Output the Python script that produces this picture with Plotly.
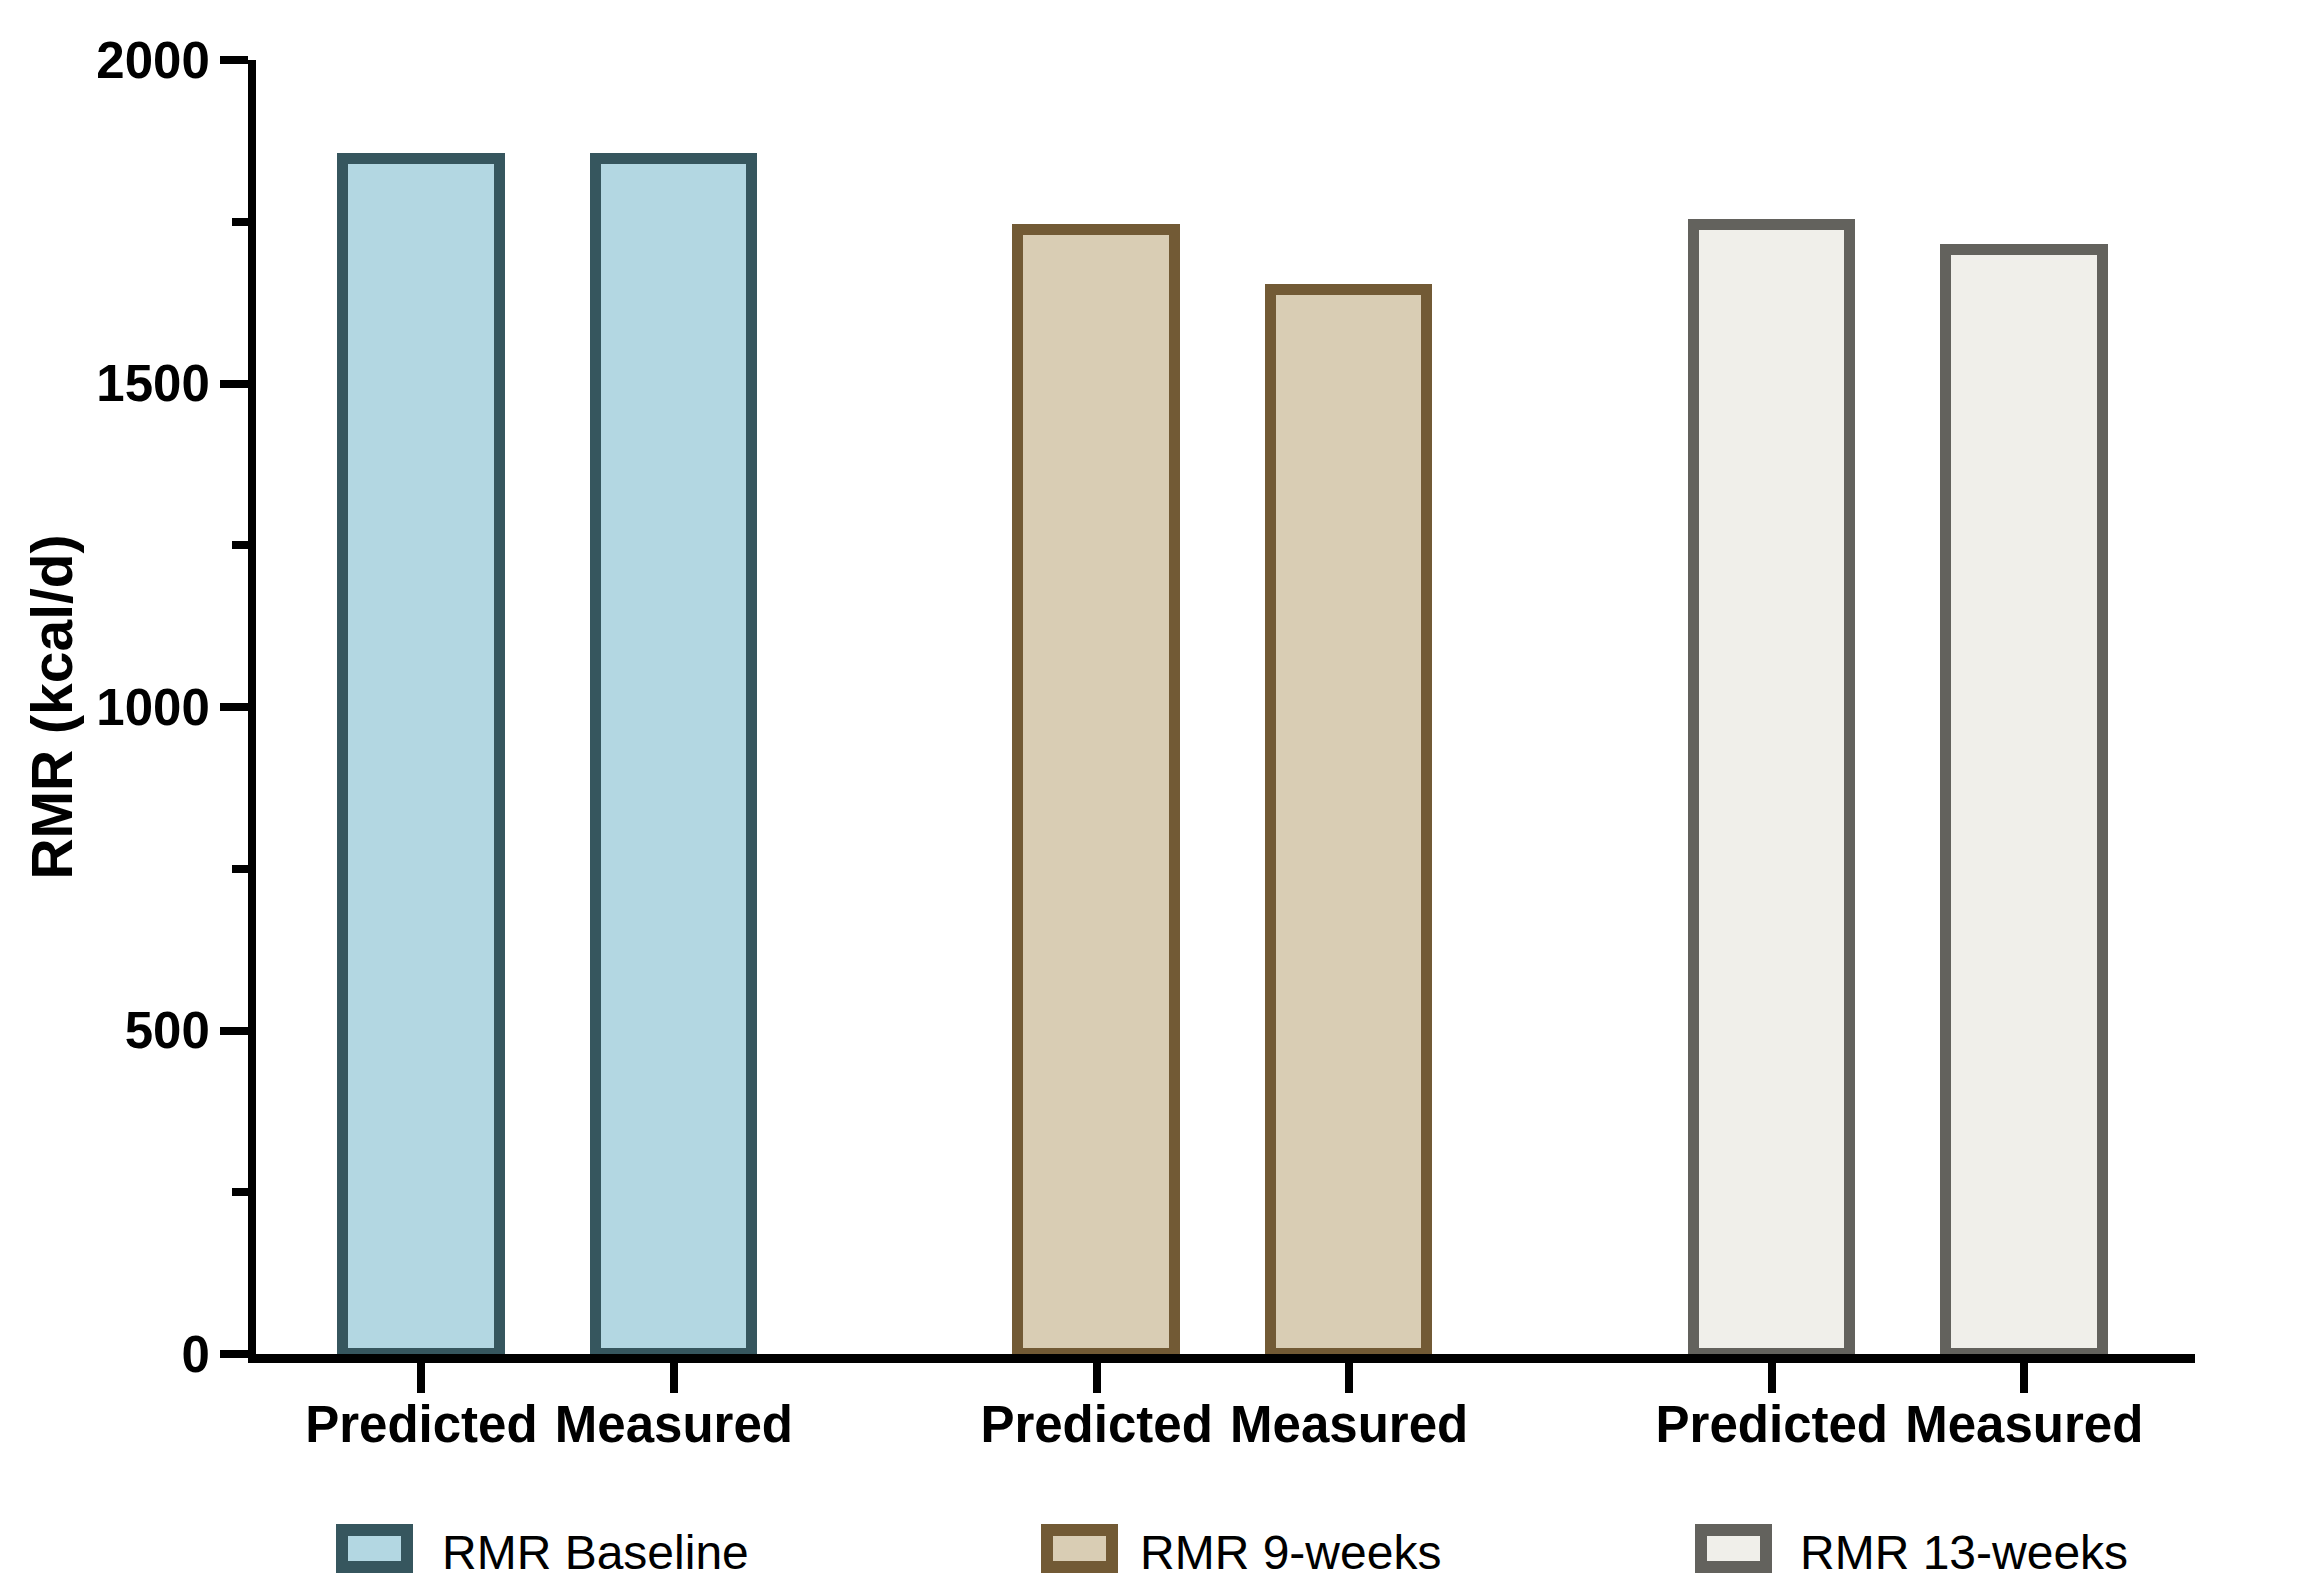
import plotly.graph_objects as go

# ---- data ----
series_names = ["RMR Baseline", "RMR 9-weeks", "RMR 13-weeks"]
categories = ["Predicted", "Measured"]
rmr_baseline = [1847, 1847]
rmr_9weeks = [1737, 1645]
rmr_13weeks = [1745, 1706]
y_ticks = [0, 500, 1000, 1500, 2000]

# ---- styles ----
fills = ["#B3D7E2", "#D9CDB4", "#F0EFEA"]
edges = ["#36565E", "#725A35", "#63625D"]

W, H = 2317, 1596
OFF = 8  # page body margin
L, R, T, B = 256 - OFF, 122 + OFF, 60 - OFF, 242 + OFF
PW, PH = W - L - R, H - T - B
GROUP_STEP = 2.674

FONT = "Liberation Sans, Arial, sans-serif"

fig = go.Figure()
all_series = [rmr_baseline, rmr_9weeks, rmr_13weeks]
tickvals, ticktext = [], []
for g, (name, vals) in enumerate(zip(series_names, all_series)):
    xs = [g * GROUP_STEP + j for j in range(len(categories))]
    tickvals += xs
    ticktext += categories
    fig.add_trace(go.Bar(
        x=xs, y=vals, name=name, width=0.62,
        marker=dict(color=fills[g], line=dict(color=edges[g], width=11)),
        showlegend=False,
    ))

# custom legend (paper coordinates derived from target pixel layout)
def px_x(p):
    return (p - OFF - L) / PW

def px_y(p):
    return (H - B - (p - OFF)) / PH

legend_swatch_x = [336, 1041, 1695]
legend_text_x = [440, 1138, 1798]
for g, name in enumerate(series_names):
    x0 = legend_swatch_x[g] + 6
    fig.add_shape(type="rect", xref="paper", yref="paper",
                  x0=px_x(x0), x1=px_x(x0 + 65),
                  y0=px_y(1530), y1=px_y(1567),
                  fillcolor=fills[g], line=dict(color=edges[g], width=12))
    fig.add_annotation(xref="paper", yref="paper", x=px_x(legend_text_x[g]), y=px_y(1552),
                       text=name, showarrow=False, xanchor="left", yanchor="middle",
                       font=dict(family=FONT, size=48, color="black"))

fig.update_layout(
    width=W, height=H,
    margin=dict(l=L, r=R, t=T, b=B),
    paper_bgcolor="white", plot_bgcolor="white",
    bargap=0,
    font=dict(family=FONT, color="black"),
    xaxis=dict(
        range=[-0.655, 7.024],
        tickvals=tickvals, ticktext=ticktext,
        showline=True, linewidth=9, linecolor="black",
        ticks="outside", ticklen=30, tickwidth=8, tickcolor="black",
        ticklabelstandoff=-12,
        tickfont=dict(family=FONT, size=51, weight="bold", color="black"),
        showgrid=False, zeroline=False, fixedrange=True,
    ),
    yaxis=dict(
        range=[0, 2000],
        tickvals=y_ticks,
        showline=True, linewidth=8, linecolor="black",
        ticks="outside", ticklen=28, tickwidth=8, tickcolor="black",
        minor=dict(dtick=250, ticks="outside", ticklen=16, tickwidth=8, tickcolor="black"),
        tickfont=dict(family=FONT, size=51, weight="bold", color="black"),
        title=dict(text="RMR (kcal/d)", standoff=8,
                   font=dict(family=FONT, size=57, weight="bold", color="black")),
        showgrid=False, zeroline=False, fixedrange=True,
    ),
)

fig.write_html("out.html")
